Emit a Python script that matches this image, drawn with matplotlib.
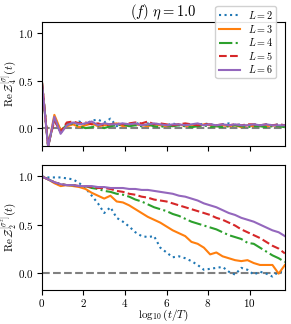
import matplotlib
matplotlib.use("Agg")
import matplotlib.pyplot as plt

# log10(t/T) grid
x = [0.0, 0.3, 0.6, 0.9, 1.2, 1.5, 1.8, 2.1, 2.4, 2.7,
     3.0, 3.3, 3.6, 3.9, 4.2, 4.5, 4.8, 5.1, 5.4, 5.7,
     6.0, 6.3, 6.6, 6.9, 7.2, 7.5, 7.8, 8.1, 8.4, 8.7,
     9.0, 9.3, 9.6, 9.9, 10.2, 10.5, 10.8, 11.1, 11.4, 11.7]

L_values = [2, 3, 4, 5, 6]

# Re Z_4^[sigma](t)
z4_L2 = [0.49, -0.2, 0.1, -0.05, 0.03, 0.05, 0.07, 0.04, 0.08, 0.09,
         0.06, 0.1, 0.02, 0.05, 0.04, 0.06, 0.03, 0.05, 0.02, 0.04,
         0.03, 0.05, 0.03, 0.04, 0.02, 0.03, 0.05, 0.04, 0.03, 0.04,
         0.05, 0.03, 0.04, 0.02, 0.04, 0.03, 0.04, 0.03, 0.04, 0.03]
z4_L3 = [0.49, -0.2, 0.14, -0.02, 0.02, 0.04, 0.01, 0.03, 0.05, 0.02,
         0.03, 0.04, 0.05, 0.02, 0.03, 0.04, 0.03, 0.02, 0.04, 0.03,
         0.02, 0.03, 0.04, 0.02, 0.03, 0.02, 0.04, 0.03, 0.02, 0.03,
         0.02, 0.03, 0.01, 0.03, 0.02, 0.03, 0.02, 0.03, 0.02, 0.03]
z4_L4 = [0.49, -0.19, 0.1, -0.04, 0.04, 0.05, 0.02, 0.0, 0.01, 0.03,
         0.0, 0.02, 0.03, 0.04, 0.02, 0.03, 0.02, 0.04, 0.02, 0.01,
         0.03, 0.02, 0.03, 0.02, 0.01, 0.02, 0.03, 0.01, 0.02, 0.01,
         0.02, 0.03, 0.02, 0.01, 0.02, 0.02, 0.01, 0.02, 0.02, 0.01]
z4_L5 = [0.49, -0.18, 0.08, -0.04, 0.06, 0.07, 0.05, 0.06, 0.04, 0.05,
         0.03, 0.04, 0.05, 0.04, 0.05, 0.06, 0.05, 0.07, 0.04, 0.05,
         0.04, 0.03, 0.04, 0.05, 0.04, 0.03, 0.04, 0.04, 0.03, 0.04,
         0.03, 0.04, 0.03, 0.04, 0.04, 0.03, 0.04, 0.03, 0.04, 0.03]
z4_L6 = [0.49, -0.2, 0.12, -0.06, 0.03, 0.06, 0.04, 0.05, 0.07, 0.03,
         0.05, 0.04, 0.04, 0.05, 0.04, 0.05, 0.03, 0.04, 0.05, 0.04,
         0.03, 0.04, 0.04, 0.03, 0.04, 0.05, 0.03, 0.04, 0.03, 0.04,
         0.03, 0.04, 0.03, 0.03, 0.04, 0.03, 0.04, 0.03, 0.03, 0.03]

# Re Z_2^[sigma^z](t)
z2_L2 = [1.0, 0.99, 0.99, 0.99, 0.98, 0.97, 0.93, 0.88, 0.80, 0.72,
         0.62, 0.68, 0.57, 0.53, 0.48, 0.42, 0.38, 0.37, 0.38, 0.26,
         0.21, 0.16, 0.17, 0.15, 0.12, 0.08, 0.03, 0.04, 0.05, 0.06,
         0.01, -0.02, 0.05, 0.03, -0.02, 0.01, -0.01, -0.04, 0.01, 0.0]
z2_L3 = [1.0, 0.97, 0.93, 0.9, 0.91, 0.9, 0.89, 0.87, 0.83, 0.80,
         0.77, 0.80, 0.74, 0.73, 0.70, 0.66, 0.62, 0.58, 0.55, 0.52,
         0.48, 0.44, 0.41, 0.38, 0.32, 0.30, 0.26, 0.19, 0.21, 0.17,
         0.15, 0.13, 0.12, 0.13, 0.10, 0.08, 0.08, 0.08, -0.01, 0.08]
z2_L4 = [1.0, 0.97, 0.94, 0.92, 0.91, 0.91, 0.9, 0.9, 0.88, 0.87,
         0.85, 0.84, 0.82, 0.81, 0.79, 0.76, 0.74, 0.71, 0.68, 0.66,
         0.64, 0.61, 0.59, 0.56, 0.53, 0.51, 0.49, 0.47, 0.45, 0.42,
         0.39, 0.37, 0.35, 0.31, 0.30, 0.26, 0.22, 0.18, 0.15, 0.11]
z2_L5 = [1.0, 0.97, 0.94, 0.92, 0.91, 0.91, 0.9, 0.9, 0.89, 0.88,
         0.88, 0.87, 0.85, 0.84, 0.82, 0.81, 0.79, 0.78, 0.76, 0.75,
         0.74, 0.72, 0.70, 0.68, 0.66, 0.64, 0.62, 0.60, 0.57, 0.55,
         0.52, 0.49, 0.45, 0.42, 0.39, 0.36, 0.32, 0.28, 0.25, 0.20]
z2_L6 = [1.0, 0.97, 0.94, 0.92, 0.91, 0.91, 0.9, 0.9, 0.9, 0.89,
         0.89, 0.88, 0.88, 0.88, 0.87, 0.87, 0.86, 0.86, 0.85, 0.84,
         0.83, 0.82, 0.80, 0.79, 0.77, 0.75, 0.72, 0.70, 0.68, 0.65,
         0.62, 0.60, 0.57, 0.55, 0.53, 0.50, 0.47, 0.44, 0.42, 0.38]

z4_all = [z4_L2, z4_L3, z4_L4, z4_L5, z4_L6]
z2_all = [z2_L2, z2_L3, z2_L4, z2_L5, z2_L6]
styles = [":", "-", "-.", "--", "-"]
colors = ["tab:blue", "tab:orange", "tab:green", "tab:red", "tab:purple"]

plt.rcParams["font.family"] = "serif"
plt.rcParams["font.serif"] = ["cmr10", "DejaVu Serif"]
plt.rcParams["mathtext.fontset"] = "cm"
plt.rcParams["axes.formatter.use_mathtext"] = True
plt.rcParams["font.size"] = 8
plt.rcParams["xtick.major.pad"] = 1.5
plt.rcParams["ytick.major.pad"] = 2.5

fig = plt.figure(figsize=(2.91, 3.24), dpi=100)
ax1 = fig.add_axes([0.144, 0.549, 0.835, 0.383])
ax2 = fig.add_axes([0.144, 0.105, 0.835, 0.386])

for L, y, ls, c in zip(L_values, z4_all, styles, colors):
    ax1.plot(x, y, ls, color=c, lw=1.5, label=r"$L=$" + str(L))
ax1.axhline(0, color="gray", ls="--", lw=1.5, zorder=0)
ax1.set_xlim(0, 11.7)
ax1.set_ylim(-0.19, 1.12)
ax1.set_yticks([0.0, 0.5, 1.0])
ax1.set_xticks([0, 2, 4, 6, 8, 10])
ax1.set_xticklabels([])
ax1.set_ylabel(r"$\mathrm{Re}\,\mathcal{Z}_4^{[\sigma]}(t)$", fontsize=8)
ax1.yaxis.set_label_coords(-0.095, 0.5)
ax1.set_title(r"$(f)\ \eta=1.0$", fontsize=10.5, pad=4)
ax1.legend(loc="upper right", bbox_to_anchor=(0.985, 1.17), fontsize=7.3,
           handlelength=2.1, labelspacing=0.15, borderpad=0.3,
           handletextpad=0.8, framealpha=0.9)

for L, y, ls, c in zip(L_values, z2_all, styles, colors):
    ax2.plot(x, y, ls, color=c, lw=1.5)
ax2.axhline(0, color="gray", ls="--", lw=1.5, zorder=0)
ax2.set_xlim(0, 11.7)
ax2.set_ylim(-0.18, 1.12)
ax2.set_yticks([0.0, 0.5, 1.0])
ax2.set_xticks([0, 2, 4, 6, 8, 10])
ax2.set_ylabel(r"$\mathrm{Re}\,\mathcal{Z}_2^{[\sigma^z]}(t)$", fontsize=8)
ax2.yaxis.set_label_coords(-0.095, 0.5)
ax2.set_xlabel(r"$\log_{10}(t/T)$", fontsize=8)
ax2.xaxis.set_label_coords(0.5, -0.14)

fig.savefig("out.png", dpi=100)
